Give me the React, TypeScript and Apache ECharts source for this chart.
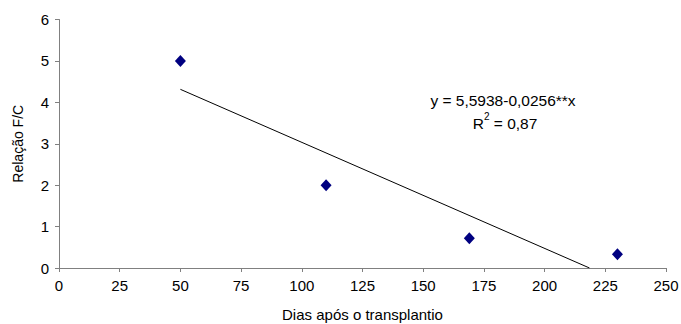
import React, { useEffect, useRef } from "react";
import * as echarts from "echarts";

const pointsX = [50, 110, 169, 230];
const pointsY = [5, 2, 0.72, 0.33];
const trendX = [50, 218.5];
const trendY = [4.3138, 0];
const xTicks = { min: 0, max: 250, interval: 25 };
const yTicks = { min: 0, max: 6, interval: 1 };
const equationText = "y = 5,5938-0,0256**x";
const r2Text = "0,87";

const FONT = "'Liberation Sans', Arial, sans-serif";

export default function App() {
  const ref = useRef<HTMLDivElement>(null);
  useEffect(() => {
    document.body.style.margin = "0";
    const chart = echarts.init(ref.current!, null, { renderer: "svg" });
    chart.setOption({
      animation: false,
      backgroundColor: "#ffffff",
      textStyle: { fontFamily: FONT },
      grid: { left: 59, right: 15, top: 19.5, bottom: 56, containLabel: false, outerBoundsMode: "none" },
      xAxis: {
        type: "value",
        min: xTicks.min,
        max: xTicks.max,
        interval: xTicks.interval,
        name: "Dias após o transplantio",
        nameLocation: "middle",
        nameGap: 39,
        nameTextStyle: { fontSize: 15, color: "#000", fontFamily: FONT },
        axisLine: { show: true, lineStyle: { color: "#808080", width: 1 } },
        axisTick: { show: true, inside: false, length: 4, lineStyle: { color: "#808080" } },
        axisLabel: { fontSize: 15, color: "#000", margin: 10, fontFamily: FONT },
        splitLine: { show: false },
      },
      yAxis: {
        type: "value",
        min: yTicks.min,
        max: yTicks.max,
        interval: yTicks.interval,
        name: "Relação F/C",
        nameLocation: "middle",
        nameGap: 34,
        nameTextStyle: { fontSize: 14, color: "#000", fontFamily: FONT },
        axisLine: { show: true, lineStyle: { color: "#808080", width: 1 } },
        axisTick: { show: true, inside: false, length: 4, lineStyle: { color: "#808080" } },
        axisLabel: { fontSize: 15, color: "#000", margin: 10, fontFamily: FONT },
        splitLine: { show: false },
      },
      series: [
        {
          type: "line",
          data: trendX.map((x, i) => [x, trendY[i]]),
          symbol: "none",
          lineStyle: { color: "#000", width: 1 },
          silent: true,
          z: 1,
        },
        {
          type: "scatter",
          data: pointsX.map((x, i) => [x, pointsY[i]]),
          symbol: "diamond",
          symbolSize: [11, 12],
          itemStyle: { color: "#000080", opacity: 1 },
          z: 2,
        },
      ],
      graphic: [
        {
          type: "text",
          x: 503,
          y: 100,
          style: {
            text: equationText,
            fontSize: 15.5,
            fill: "#000",
            fontFamily: FONT,
            align: "center",
            verticalAlign: "middle",
          },
        },
        {
          type: "text",
          x: 505,
          y: 121,
          style: {
            text: "{a|R}{s|2}{a| = " + r2Text + "}",
            fill: "#000",
            fontFamily: FONT,
            align: "center",
            verticalAlign: "middle",
            rich: {
              a: { fontSize: 15.5, fontFamily: FONT, fill: "#000", verticalAlign: "bottom", lineHeight: 20 },
              s: { fontSize: 10, fontFamily: FONT, fill: "#000", verticalAlign: "top", lineHeight: 20 },
            },
          },
        },
      ],
    });
    return () => chart.dispose();
  }, []);
  return <div ref={ref} style={{ width: 681, height: 324 }} />;
}
